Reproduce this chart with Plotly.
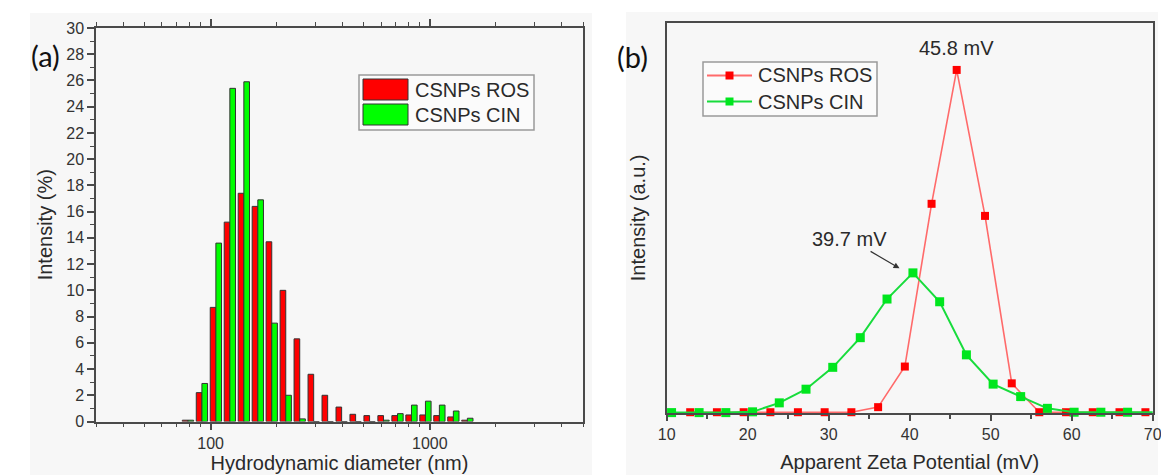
import numpy as np
import plotly.graph_objects as go

# ---- (a) DLS size distribution (intensity %) ----
diameter_nm = [78.82, 91.28, 105.7, 122.4, 141.8, 164.2, 190.1, 220.2, 255.0, 295.3,
               342.0, 396.1, 458.7, 531.2, 615.1, 712.4, 825.0, 955.4, 1106, 1281, 1484]
ros_intensity = [0.1, 2.2, 8.7, 15.2, 17.4, 16.4, 13.7, 10.0, 6.3, 3.6,
                 2.0, 1.1, 0.55, 0.45, 0.45, 0.45, 0.5, 0.5, 0.45, 0.35, 0.1]
cin_intensity = [0.1, 2.9, 13.6, 25.4, 25.9, 16.9, 7.5, 2.0, 0.2, 0.0,
                 0.0, 0.0, 0.0, 0.0, 0.1, 0.6, 1.25, 1.55, 1.25, 0.8, 0.25]
size_major = [100, 1000]
size_minor = [30, 40, 50, 60, 70, 80, 90, 200, 300, 400, 500, 600, 700, 800, 900,
              2000, 3000, 4000, 5000]

# ---- (b) zeta potential distribution (a.u.) ----
zeta_ros = [12.9, 16.2, 19.5, 22.8, 26.2, 29.5, 32.8, 36.1, 39.4, 42.7, 45.8,
            49.3, 52.6, 56.0, 59.3, 62.6, 65.9, 69.1]
int_ros = [0.002, 0.002, 0.002, 0.002, 0.002, 0.002, 0.002, 0.015, 0.119, 0.536, 0.879,
           0.505, 0.076, 0.002, 0.002, 0.002, 0.002, 0.002]
zeta_cin = [10.6, 14.0, 17.3, 20.6, 23.9, 27.2, 30.5, 33.9, 37.2, 40.4, 43.7,
            47.0, 50.3, 53.7, 57.0, 60.3, 63.6, 66.9, 70.1]
int_cin = [0.001, 0.001, 0.001, 0.003, 0.026, 0.061, 0.117, 0.193, 0.292, 0.359, 0.285,
           0.149, 0.074, 0.042, 0.012, 0.002, 0.002, 0.002, 0.002]
peak_ros_mv = 45.8
peak_cin_mv = 39.7

W, H = 1161, 475
FONT = "Liberation Sans, Arial, sans-serif"
AX = "#4a4a4a"
TXT = "#2a2a2a"
RED = "#ff0000"
GREEN = "#00ff00"
ROS_LINE = "#ff6a6a"
CIN_LINE = "#18dc3c"
CIN_MARK = "#00e61e"

log_d = np.log10(diameter_nm)

fig = go.Figure()
fig.add_trace(go.Bar(x=log_d, y=ros_intensity, name="CSNPs ROS", showlegend=False,
                     marker=dict(color=RED, line=dict(color="#333333", width=1)),
                     xaxis="x", yaxis="y"))
fig.add_trace(go.Bar(x=log_d, y=cin_intensity, name="CSNPs CIN", showlegend=False,
                     marker=dict(color=GREEN, line=dict(color="#333333", width=1)),
                     xaxis="x", yaxis="y"))

fig.add_trace(go.Scatter(x=zeta_ros, y=int_ros, name="CSNPs ROS", mode="lines+markers",
                         showlegend=False,
                         line=dict(color=ROS_LINE, width=1.6),
                         marker=dict(symbol="square", size=8, color=RED),
                         cliponaxis=False, xaxis="x2", yaxis="y2"))
fig.add_trace(go.Scatter(x=zeta_cin, y=int_cin, name="CSNPs CIN", mode="lines+markers",
                         showlegend=False,
                         line=dict(color=CIN_LINE, width=2),
                         marker=dict(symbol="square", size=9, color=CIN_MARK),
                         cliponaxis=False, xaxis="x2", yaxis="y2"))


def px(x):
    return x / W


def py(y):
    return 1 - y / H


tickfont = dict(family=FONT, size=16, color="#333333")
titlefont = dict(family=FONT, size=20, color=TXT)

fig.update_layout(
    width=W, height=H,
    margin=dict(l=0, r=0, t=0, b=0, autoexpand=False),
    paper_bgcolor="white",
    plot_bgcolor="rgba(0,0,0,0)",
    font=dict(family=FONT, color=TXT),
    showlegend=False,
    barmode="group", bargap=0.19, bargroupgap=0.0,
    xaxis=dict(domain=[px(96), px(583)], anchor="y", automargin=False,
               range=[np.log10(30), np.log10(5000)],
               tickmode="array", tickvals=np.log10(size_major),
               ticktext=[str(v) for v in size_major],
               ticks="outside", ticklen=7, tickwidth=1.5, tickcolor=AX,
               minor=dict(tickmode="array", tickvals=np.log10(size_minor),
                          ticks="outside", ticklen=4, tickwidth=1.2, tickcolor=AX),
               showline=True, linecolor=AX, linewidth=1.5, mirror="ticks",
               showgrid=False, zeroline=False, tickfont=tickfont,
               title=dict(text="Hydrodynamic diameter (nm)", font=titlefont, standoff=4)),
    yaxis=dict(domain=[py(421.5), py(28)], anchor="x", automargin=False,
               range=[0, 30], dtick=2, tick0=0,
               ticks="outside", ticklen=7, tickwidth=1.5, tickcolor=AX,
               minor=dict(dtick=1, ticks="outside", ticklen=4, tickwidth=1.2, tickcolor=AX),
               showline=True, linecolor=AX, linewidth=1.5, mirror=True,
               showgrid=False, zeroline=False, tickfont=tickfont,
               title=dict(text="Intensity (%)", font=titlefont, standoff=8)),
    xaxis2=dict(domain=[px(666.7), px(1152.7)], anchor="y2", automargin=False,
                range=[10, 70], dtick=10, tick0=10, ticklabeloverflow="allow",
                ticks="outside", ticklen=6, tickwidth=2, tickcolor=AX,
                minor=dict(dtick=5, ticks="outside", ticklen=4, tickwidth=1.5, tickcolor=AX),
                showline=True, linecolor=AX, linewidth=2, mirror=True,
                showgrid=False, zeroline=False, tickfont=tickfont,
                title=dict(text="Apparent Zeta Potential (mV)", font=titlefont, standoff=13)),
    yaxis2=dict(domain=[py(413), py(22.7)], anchor="x2", automargin=False,
                range=[0, 1], showticklabels=False, ticks="",
                showline=True, linecolor=AX, linewidth=2, mirror=True,
                showgrid=False, zeroline=False,
                title=dict(text="Intensity (a.u.)", font=titlefont, standoff=14)),
)

# light grey panel backgrounds
fig.add_shape(type="rect", xref="paper", yref="paper", x0=px(30), x1=px(592),
              y0=0, y1=py(13), fillcolor="#f7f7f7", line_width=0, layer="below")
fig.add_shape(type="rect", xref="paper", yref="paper", x0=px(626), x1=px(1158),
              y0=0, y1=py(12), fillcolor="#f7f7f7", line_width=0, layer="below")

legend_font = dict(family=FONT, size=20, color=TXT)

# legend of panel (a): wide colour patches
fig.add_shape(type="rect", xref="paper", yref="paper", x0=px(359), x1=px(534),
              y0=py(130), y1=py(75), fillcolor="#fbfbfb",
              line=dict(color="#9a9a9a", width=1.5))
for name, color, yc in [("CSNPs ROS", RED, 89.5), ("CSNPs CIN", GREEN, 114.5)]:
    fig.add_shape(type="rect", xref="paper", yref="paper", x0=px(363), x1=px(408),
                  y0=py(yc + 10.5), y1=py(yc - 10.5), fillcolor=color,
                  line=dict(color="#333333", width=1))
    fig.add_annotation(xref="paper", yref="paper", x=px(413), y=py(yc),
                       xanchor="left", yanchor="middle", showarrow=False,
                       text=name, font=legend_font)

# legend of panel (b): line with square marker
fig.add_shape(type="rect", xref="paper", yref="paper", x0=px(703), x1=px(877),
              y0=py(116), y1=py(62), fillcolor="#fbfbfb",
              line=dict(color="#9a9a9a", width=1.5))
for name, lcol, mcol, yc in [("CSNPs ROS", ROS_LINE, RED, 75.5),
                             ("CSNPs CIN", CIN_LINE, CIN_MARK, 101.5)]:
    fig.add_shape(type="line", xref="paper", yref="paper", x0=px(707), x1=px(752),
                  y0=py(yc), y1=py(yc), line=dict(color=lcol, width=2))
    fig.add_shape(type="rect", xref="paper", yref="paper", x0=px(725.5), x1=px(733.5),
                  y0=py(yc + 4), y1=py(yc - 4), fillcolor=mcol, line_width=0)
    fig.add_annotation(xref="paper", yref="paper", x=px(756), y=py(yc),
                       xanchor="left", yanchor="middle", showarrow=False,
                       text=name, font=legend_font)

# peak labels
fig.add_annotation(xref="x2", yref="y2", x=peak_ros_mv, y=max(int_ros),
                   text=f"{peak_ros_mv} mV", showarrow=False, yshift=22,
                   font=dict(family=FONT, size=20, color=TXT))
fig.add_annotation(xref="x2", yref="y2", x=peak_cin_mv, y=max(int_cin),
                   text=f"{peak_cin_mv} mV", showarrow=True, arrowhead=2,
                   arrowsize=1, arrowwidth=1.2, arrowcolor="#333333",
                   ax=-58, ay=-34, standoff=9,
                   font=dict(family=FONT, size=20, color=TXT))

# panel letters
fig.add_annotation(xref="paper", yref="paper", x=px(29), y=py(36), text="(a)",
                   showarrow=False, font=dict(family="Lato, Open Sans", size=29, color="#111111"))
fig.add_annotation(xref="paper", yref="paper", x=px(632), y=py(37), text="(b)",
                   showarrow=False, font=dict(family="Lato, Open Sans", size=29, color="#111111"))

fig.write_html("out.html")
